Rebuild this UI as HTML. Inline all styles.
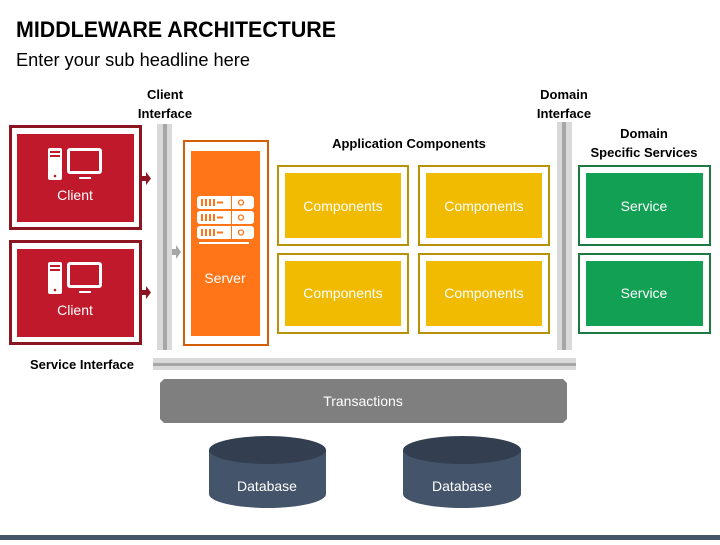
<!DOCTYPE html>
<html><head><meta charset="utf-8"><style>
html,body{margin:0;padding:0;background:#fff;}
body{width:720px;height:540px;overflow:hidden;font-family:"Liberation Sans",sans-serif;}
</style></head><body>
<svg width="720" height="540" viewBox="0 0 720 540" xmlns="http://www.w3.org/2000/svg" font-family="Liberation Sans, sans-serif">
<text x="16" y="37" font-size="22" font-weight="bold" fill="#000" textLength="320" lengthAdjust="spacingAndGlyphs">MIDDLEWARE ARCHITECTURE</text>
<text x="16" y="66" font-size="18" fill="#000" textLength="234" lengthAdjust="spacingAndGlyphs">Enter your sub headline here</text>

<g font-size="13" font-weight="bold" text-anchor="middle" fill="#000">
<text x="165" y="99">Client</text><text x="165" y="118">Interface</text>
<text x="564" y="99">Domain</text><text x="564" y="118">Interface</text>
<text x="644" y="138">Domain</text><text x="644" y="157">Specific Services</text>
<text x="409" y="148">Application Components</text>
<text x="82" y="369">Service Interface</text>
</g>

<rect x="157" y="124" width="15" height="226" fill="#d9d9d9"/>
<rect x="163" y="124" width="4" height="226" fill="#a6a6a6"/>
<rect x="557" y="122" width="15" height="228" fill="#d9d9d9"/>
<rect x="562" y="122" width="4" height="228" fill="#a6a6a6"/>
<rect x="153" y="358" width="423" height="12" fill="#d9d9d9"/>
<rect x="153" y="363" width="423" height="3" fill="#a6a6a6"/>

<g>
<rect x="10.5" y="126.5" width="130" height="102" fill="#fff" stroke="#8B1520" stroke-width="3"/>
<rect x="17" y="134" width="117" height="88" fill="#C0192B"/>
<rect x="10.5" y="241.5" width="130" height="102" fill="#fff" stroke="#8B1520" stroke-width="3"/>
<rect x="17" y="249" width="117" height="88" fill="#C0192B"/>
</g>
<g fill="#fff">
 <rect x="48" y="148" width="14" height="32" rx="2"/>
 <rect x="50" y="151" width="10" height="2" fill="#C0192B"/>
 <rect x="50" y="155" width="10" height="2" fill="#C0192B"/>
 <circle cx="55" cy="176" r="1.3" fill="#C0192B"/>
 <rect x="67" y="148" width="35" height="26" rx="3"/>
 <rect x="70" y="151" width="29" height="20" fill="#C0192B"/>
 <rect x="79" y="177" width="12" height="2"/>
 <text x="75" y="200" font-size="14" text-anchor="middle">Client</text>
 <rect x="48" y="262" width="14" height="32" rx="2"/>
 <rect x="50" y="265" width="10" height="2" fill="#C0192B"/>
 <rect x="50" y="269" width="10" height="2" fill="#C0192B"/>
 <circle cx="55" cy="290" r="1.3" fill="#C0192B"/>
 <rect x="67" y="262" width="35" height="26" rx="3"/>
 <rect x="70" y="265" width="29" height="20" fill="#C0192B"/>
 <rect x="79" y="291" width="12" height="2"/>
 <text x="75" y="315" font-size="14" text-anchor="middle">Client</text>
</g>
<g fill="#8B1520">
<rect x="142" y="176" width="4" height="5"/><polygon points="146,172 151,178.5 146,185"/>
<rect x="142" y="290" width="4" height="5"/><polygon points="146,286 151,292.5 146,299"/>
</g>
<g fill="#a6a6a6">
<rect x="172" y="249" width="4" height="6"/><polygon points="176,245 181,252 176,259"/>
</g>

<rect x="184" y="141" width="84" height="204" fill="#fff" stroke="#D35F0A" stroke-width="2"/>
<rect x="191" y="151" width="69" height="185" fill="#FF7518"/>
<g fill="#fff">
 <rect x="197" y="196" width="57" height="13" rx="3"/>
 <rect x="197" y="211" width="57" height="13" rx="3"/>
 <rect x="197" y="226" width="57" height="13" rx="3"/>
 <rect x="199" y="242" width="50" height="2"/>
</g>
<g fill="#FF7518">
 <rect x="201" y="199" width="2" height="7"/><rect x="205" y="199" width="2" height="7"/><rect x="209" y="199" width="2" height="7"/><rect x="213" y="199" width="2" height="7"/><rect x="217" y="201.5" width="6" height="2"/>
 <rect x="201" y="214" width="2" height="7"/><rect x="205" y="214" width="2" height="7"/><rect x="209" y="214" width="2" height="7"/><rect x="213" y="214" width="2" height="7"/><rect x="217" y="216.5" width="6" height="2"/>
 <rect x="201" y="229" width="2" height="7"/><rect x="205" y="229" width="2" height="7"/><rect x="209" y="229" width="2" height="7"/><rect x="213" y="229" width="2" height="7"/><rect x="217" y="231.5" width="6" height="2"/>
 <rect x="231" y="196" width="1" height="43"/>
 <circle cx="241" cy="202.5" r="2.5" fill="none" stroke="#FF7518" stroke-width="1.3"/>
 <circle cx="241" cy="217.5" r="2.5" fill="none" stroke="#FF7518" stroke-width="1.3"/>
 <circle cx="241" cy="232.5" r="2.5" fill="none" stroke="#FF7518" stroke-width="1.3"/>
</g>
<text x="225" y="283" font-size="14" fill="#fff" text-anchor="middle">Server</text>

<g stroke="#B8930A" stroke-width="2" fill="#fff">
<rect x="278" y="166" width="130" height="79"/>
<rect x="419" y="166" width="130" height="79"/>
<rect x="278" y="254" width="130" height="79"/>
<rect x="419" y="254" width="130" height="79"/>
</g>
<g fill="#F0BB00">
<rect x="285" y="173" width="116" height="65"/>
<rect x="426" y="173" width="116" height="65"/>
<rect x="285" y="261" width="116" height="65"/>
<rect x="426" y="261" width="116" height="65"/>
</g>
<g fill="#fff" font-size="14" text-anchor="middle">
<text x="343" y="211">Components</text><text x="484" y="211">Components</text>
<text x="343" y="298">Components</text><text x="484" y="298">Components</text>
</g>

<g stroke="#1A7A40" stroke-width="2" fill="#fff">
<rect x="579" y="166" width="131" height="79"/>
<rect x="579" y="254" width="131" height="79"/>
</g>
<g fill="#12A055">
<rect x="586" y="173" width="117" height="65"/>
<rect x="586" y="261" width="117" height="65"/>
</g>
<g fill="#fff" font-size="14" text-anchor="middle">
<text x="644" y="211">Service</text><text x="644" y="298">Service</text>
</g>

<polygon points="164,379 563,379 567,383 567,419 563,423 164,423 160,419 160,383" fill="#7F7F7F"/>
<text x="363" y="406" font-size="14" fill="#fff" text-anchor="middle">Transactions</text>

<g>
<path d="M209,450 L209,494 A58.5,14 0 0 0 326,494 L326,450 Z" fill="#44546A"/>
<ellipse cx="267.5" cy="450" rx="58.5" ry="14" fill="#333F50"/>
<text x="267" y="491" font-size="14" fill="#fff" text-anchor="middle">Database</text>
<path d="M403,450 L403,494 A59,14 0 0 0 521,494 L521,450 Z" fill="#44546A"/>
<ellipse cx="462" cy="450" rx="59" ry="14" fill="#333F50"/>
<text x="462" y="491" font-size="14" fill="#fff" text-anchor="middle">Database</text>
</g>

<rect x="0" y="535" width="720" height="5" fill="#44546A"/>
</svg>
</body></html>
